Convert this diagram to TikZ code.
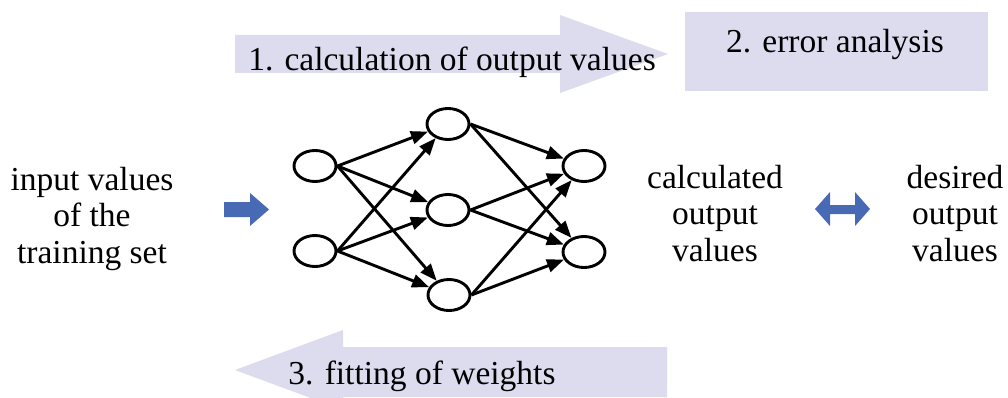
\documentclass[tikz,border=0pt]{standalone}
\usepackage{fontspec}
\setmainfont{Liberation Serif}
\usetikzlibrary{shapes.geometric,arrows.meta}
\definecolor{lav}{RGB}{220,220,238}
\definecolor{bluearr}{RGB}{72,106,180}
\tikzset{
  neuron/.style={ellipse,draw=black,line width=2.9pt,minimum width=42pt,minimum height=31pt,inner sep=0pt,fill=white},
  conn/.style={line width=2.9pt,-{Triangle[length=17pt,width=13pt]}},
  lbl/.style={font=\fontsize{33.5}{36.5}\selectfont,align=center,inner sep=0pt},
  bigarrow/.style={fill=lav,draw=none},
  bluearrow/.style={fill=bluearr,draw=none}
}
\begin{document}
\begin{tikzpicture}[x=1pt,y=-1pt]
\clip (0,0) rectangle (1008,398);
\fill[white] (0,0) rectangle (1008,398);
% big arrows and box
\fill[bigarrow] (235,35) -- (560,35) -- (560,15) -- (668,54) -- (560,93) -- (560,73) -- (235,73) -- cycle;
\node[lbl,anchor=base] (t1) at (452,71) {1. calculation of output values};
\fill[bigarrow] (685,12) rectangle (988,91);
\node[lbl,anchor=base] (t2) at (835,53) {2. error analysis};
\fill[bigarrow] (667,347) -- (343,347) -- (343,330) -- (235,370) -- (343,410) -- (343,397) -- (667,397) -- cycle;
\node[lbl,anchor=base] (t3) at (422,384) {3. fitting of weights};
% side texts
\node[lbl,anchor=base] (in) at (92,263) {input values\\of the\\training set};
\node[lbl,anchor=base] (calc) at (715,261) {calculated\\output\\values};
\node[lbl,anchor=base] (des) at (955,261) {desired\\output\\values};
% blue arrows
\fill[bluearrow] (224,202) -- (250,202) -- (250,193) -- (269,209.5) -- (250,226) -- (250,217) -- (224,217) -- cycle;
\fill[bluearrow] (815,209) -- (830,192) -- (830,205) -- (855,205) -- (855,192) -- (870,209) -- (855,226) -- (855,214) -- (830,214) -- (830,226) -- cycle;
% network
\node[neuron] (i1) at (315,166) {};
\node[neuron] (i2) at (315,251) {};
\node[neuron] (h1) at (448,124) {};
\node[neuron] (h2) at (448,210) {};
\node[neuron] (h3) at (449,295) {};
\node[neuron] (o1) at (584,166) {};
\node[neuron] (o2) at (584,252) {};
\foreach \s in {i1,i2}{
  \foreach \t in {h1,h2,h3}{
    \draw[conn] (\s.east) -- (\t);
  }
}
\foreach \s in {h1,h2,h3}{
  \foreach \t in {o1,o2}{
    \draw[conn] (\s.east) -- (\t);
  }
}
\end{tikzpicture}
\end{document}
